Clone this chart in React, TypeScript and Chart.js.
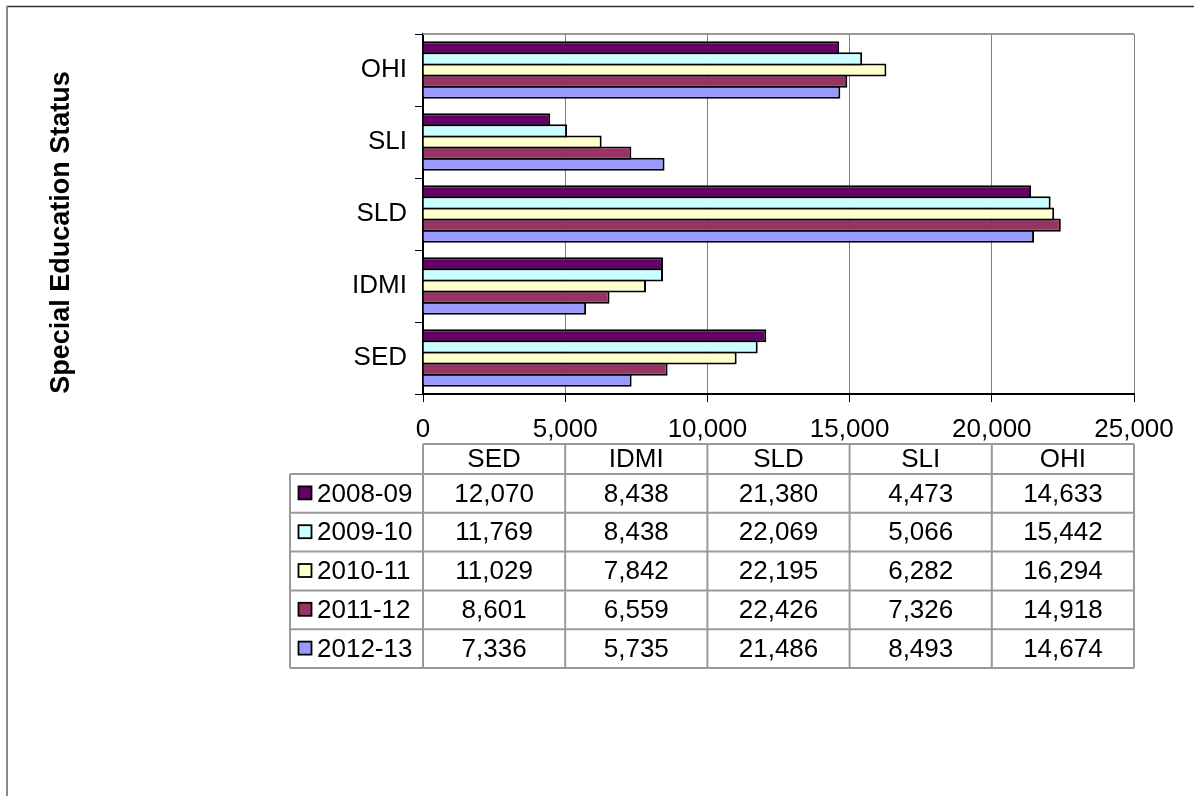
import React, { useEffect, useRef } from "react";
import { Chart, registerables } from "chart.js";

Chart.register(...registerables);

const categories = ["SED", "IDMI", "SLD", "SLI", "OHI"];
const years = ["2008-09", "2009-10", "2010-11", "2011-12", "2012-13"];
const values0809 = [12070, 8438, 21380, 4473, 14633];
const values0910 = [11769, 8438, 22069, 5066, 15442];
const values1011 = [11029, 7842, 22195, 6282, 16294];
const values1112 = [8601, 6559, 22426, 7326, 14918];
const values1213 = [7336, 5735, 21486, 8493, 14674];
const seriesValues = [values0809, values0910, values1011, values1112, values1213];
const seriesColors = ["#660066", "#CCFFFF", "#FFFFCC", "#993366", "#9999FF"];
const xTickMax = 25000;
const xTickStep = 5000;
const yAxisTitle = "Special Education Status";

const FONT = '"Liberation Sans", Arial, Helvetica, sans-serif';
const W = 1194;
const H = 796;

const tablePlugin = {
  id: "dataTableAndFrame",
  afterDraw(chart: any) {
    const { ctx, chartArea: ca } = chart;
    ctx.save();

    // outer frame (top and left visible)
    ctx.strokeStyle = "#333";
    ctx.lineWidth = 1.5;
    ctx.beginPath();
    ctx.moveTo(6, 6.5);
    ctx.lineTo(W, 6.5);
    ctx.stroke();
    ctx.strokeStyle = "#888";
    ctx.lineWidth = 2;
    ctx.beginPath();
    ctx.moveTo(7, 6);
    ctx.lineTo(7, H);
    ctx.stroke();

    // plot area top border
    ctx.strokeStyle = "#999";
    ctx.lineWidth = 2;
    ctx.beginPath();
    ctx.moveTo(ca.left, ca.top);
    ctx.lineTo(ca.right, ca.top);
    ctx.stroke();

    // axis title
    ctx.fillStyle = "#000";
    ctx.font = `bold 27px ${FONT}`;
    ctx.textAlign = "center";
    ctx.textBaseline = "alphabetic";
    ctx.save();
    ctx.translate(69, 232.5);
    ctx.rotate(-Math.PI / 2);
    ctx.fillText(yAxisTitle, 0, 0);
    ctx.restore();

    // data table
    const n = categories.length;
    const colW = (ca.right - ca.left) / n;
    const top = 444;
    const headH = 30;
    const rowH = 38.8;
    const legendLeft = 290;
    const bottom = top + headH + rowH * years.length;

    ctx.strokeStyle = "#999";
    ctx.lineWidth = 2;
    ctx.beginPath();
    ctx.moveTo(ca.left, top);
    ctx.lineTo(ca.right, top);
    for (let r = 0; r <= years.length; r++) {
      const y = top + headH + r * rowH;
      ctx.moveTo(legendLeft, y);
      ctx.lineTo(ca.right, y);
    }
    for (let c = 0; c <= n; c++) {
      const x = ca.left + c * colW;
      ctx.moveTo(x, top);
      ctx.lineTo(x, bottom);
    }
    ctx.moveTo(legendLeft, top + headH);
    ctx.lineTo(legendLeft, bottom);
    ctx.stroke();

    ctx.font = `26px ${FONT}`;
    ctx.fillStyle = "#000";
    ctx.textBaseline = "middle";
    ctx.textAlign = "center";
    categories.forEach((cat, c) => {
      ctx.fillText(cat, ca.left + (c + 0.5) * colW, top + headH / 2 + 1);
    });
    years.forEach((yr, r) => {
      const cy = top + headH + (r + 0.5) * rowH;
      // swatch
      ctx.fillStyle = seriesColors[r];
      ctx.fillRect(298.5, cy - 7, 13, 13);
      ctx.strokeStyle = "#000";
      ctx.lineWidth = 1.8;
      ctx.strokeRect(298.5, cy - 7, 13, 13);
      ctx.fillStyle = "#000";
      ctx.textAlign = "left";
      ctx.fillText(yr, 317, cy + 1);
      ctx.textAlign = "center";
      seriesValues[r].forEach((v, c) => {
        ctx.fillText(v.toLocaleString("en-US"), ca.left + (c + 0.5) * colW, cy + 1);
      });
    });

    ctx.restore();
  },
};

export default function App() {
  const ref = useRef<HTMLCanvasElement | null>(null);

  useEffect(() => {
    if (!ref.current) return;
    const chart = new Chart(ref.current, {
      type: "bar",
      data: {
        labels: categories,
        datasets: years.map((yr, i) => ({
          label: yr,
          data: seriesValues[i],
          backgroundColor: seriesColors[i],
          borderColor: "#000",
          borderWidth: 2,
          categoryPercentage: 0.77,
          barPercentage: 1.18,
        })),
      },
      options: {
        indexAxis: "y",
        animation: false,
        responsive: false,
        maintainAspectRatio: false,
        layout: { padding: { left: 0, top: 34, right: W - 1134, bottom: 0 } },
        plugins: {
          legend: { display: false },
          tooltip: { enabled: false },
          title: { display: false },
        },
        scales: {
          x: {
            type: "linear",
            min: 0,
            max: xTickMax,
            ticks: {
              stepSize: xTickStep,
              color: "#000",
              font: { family: FONT, size: 26 },
              padding: 12,
              maxRotation: 0,
            },
            grid: {
              color: "#808080",
              lineWidth: 1,
              tickColor: "#000",
              tickLength: 8,
              drawTicks: true,
            },
            border: { color: "#000", width: 2 },
            afterFit: (s: any) => {
              s.height = H - 394;
            },
          },
          y: {
            type: "category",
            reverse: true,
            ticks: {
              color: "#000",
              font: { family: FONT, size: 26 },
              padding: 8,
            },
            grid: {
              offset: true,
              drawOnChartArea: false,
              tickColor: "#000",
              tickLength: 8,
              lineWidth: 1,
            },
            border: { color: "#000", width: 2 },
            afterFit: (s: any) => {
              s.width = 423;
            },
          },
        },
      } as any,
      plugins: [tablePlugin],
    });
    return () => chart.destroy();
  }, []);

  return (
    <div style={{ position: "absolute", left: 0, top: 0, width: W, height: H, background: "#fff" }}>
      <canvas ref={ref} width={W} height={H} style={{ display: "block", width: W, height: H }} />
    </div>
  );
}
